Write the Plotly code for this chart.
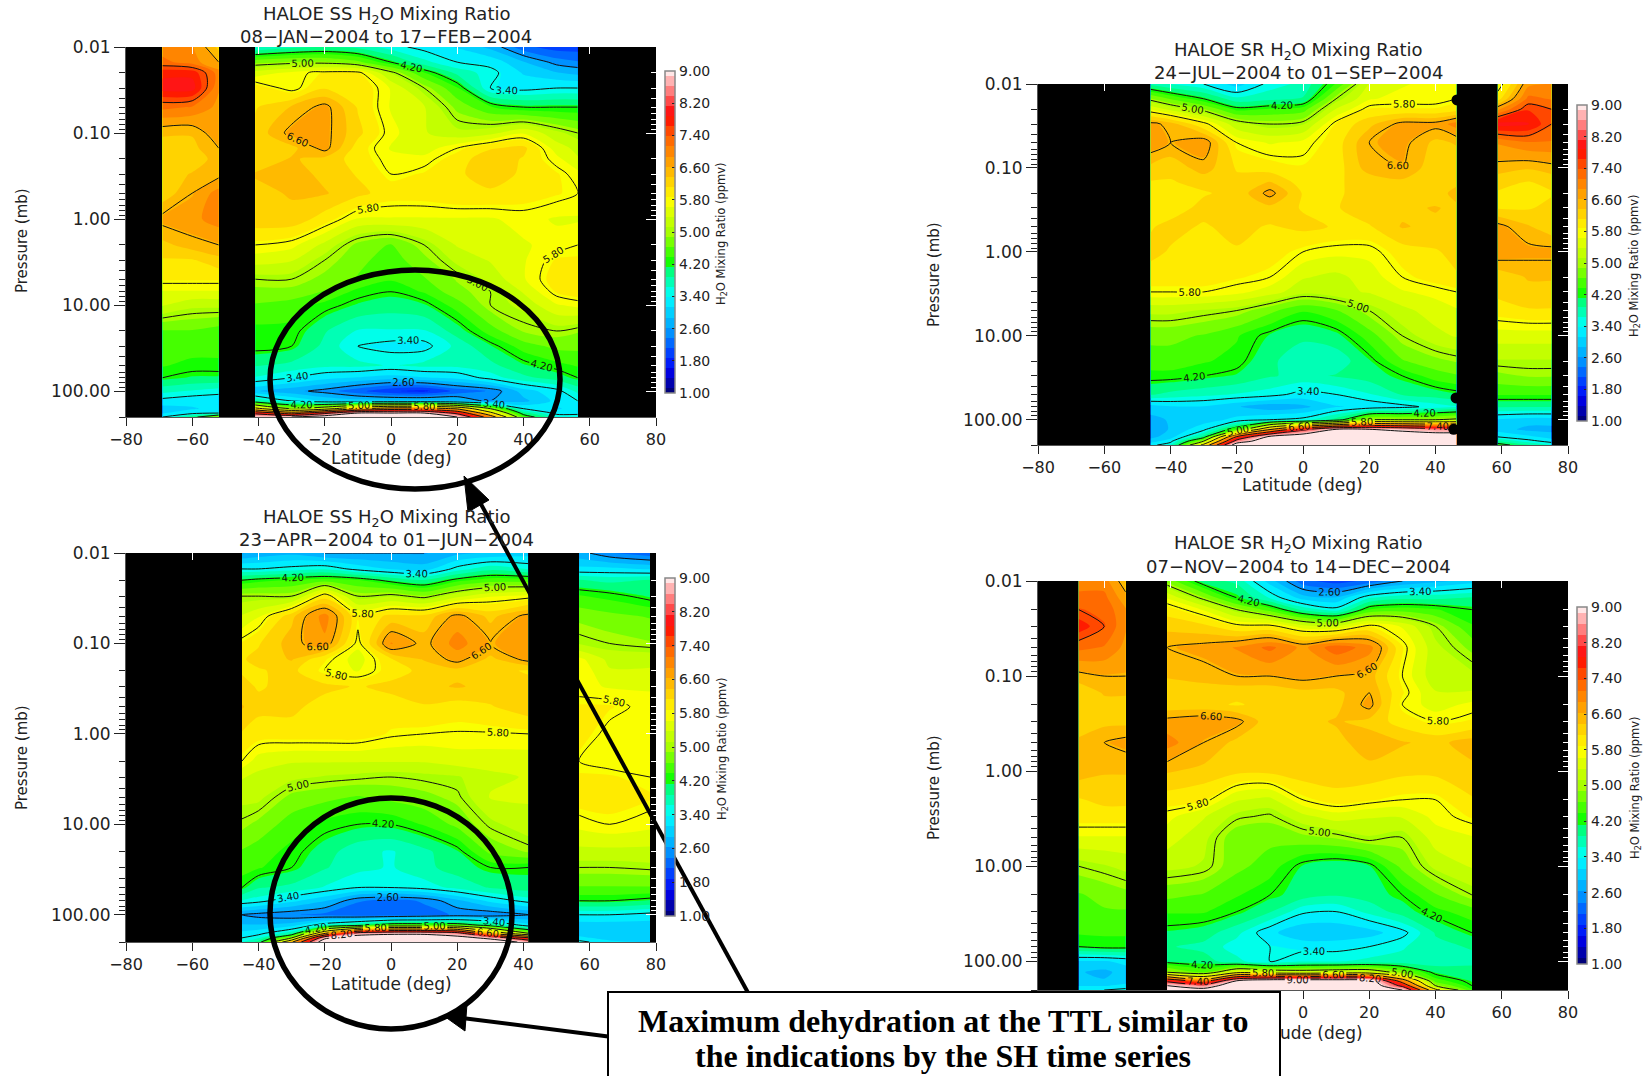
import math
import plotly.graph_objects as go

W, H = 1648, 1076

# ---------- shared data ----------
LEVELS_LONG = [0.01,0.015,0.02,0.03,0.05,0.1,0.15,0.2,0.3,0.5,1,2,3,5,7,10,20,30,50,70,100,130,160,180,200]
LEVELS = [0.01,0.015,0.02,0.03,0.05,0.1,0.15,0.2,0.3,0.5,1,2,3,5,10,20,30,50,70,100,130,160,180,200]
Y_TICKS = [0.01,0.1,1,10,100]
Y_TICK_TEXT = ["0.01","0.10","1.00","10.00","100.00"]
X_TICKS = [-80,-60,-40,-20,0,20,40,60,80]
CB_TICKS = [1.0,1.8,2.6,3.4,4.2,5.0,5.8,6.6,7.4,8.2,9.0]
CB_TEXT = ["1.00","1.80","2.60","3.40","4.20","5.00","5.80","6.60","7.40","8.20","9.00"]

# ---------- panel 1: 08-JAN-2004 to 17-FEB-2004 ----------
p1_lat_a = [-69,-60,-52]
p1_val_a = [
 [7.0,6.9,6.3],[7.2,7.0,6.6],[7.8,7.8,7.0],[8.0,8.0,6.9],[7.2,7.1,6.8],[6.4,6.4,6.8],[6.3,6.3,6.6],[6.2,6.2,6.5],
 [6.2,6.4,6.5],[6.2,6.6,7.0],[6.7,6.8,7.0],[6.3,6.5,6.6],[6.1,6.1,6.3],[5.9,5.9,5.9],[5.6,5.6,5.6],[5.4,5.2,5.2],
 [4.6,4.6,4.5],[4.5,4.5,4.5],[4.4,4.3,4.3],[4.2,4.1,4.1],[3.7,3.6,3.5],[3.3,3.2,3.2],[3.0,3.1,3.2],[3.1,3.3,3.4],[3.4,4.0,5.0]]
p1_lat_b = [-41,-30,-20,-10,0,10,20,30,40,50,56.4]
p1_val_b = [
 [3.6,3.8,3.9,3.8,3.5,3.3,3.1,2.8,2.2,2.0,2.0],
 [4.8,4.9,4.9,4.7,4.2,3.7,3.4,3.3,2.9,2.5,2.4],
 [5.5,5.7,5.9,5.9,5.1,4.4,3.8,3.5,3.1,2.9,2.8],
 [6.0,5.7,6.1,6.1,5.6,5.0,4.4,3.4,3.3,3.4,3.4],
 [6.1,6.4,6.7,6.1,5.6,5.4,4.8,4.4,4.2,4.2,4.2],
 [6.2,6.7,6.7,6.2,5.7,5.4,5.2,5.3,5.6,5.2,5.0],
 [6.2,6.3,6.7,6.0,5.6,5.5,5.8,6.1,6.2,5.5,5.3],
 [6.2,6.4,6.3,6.0,5.7,5.7,6.0,6.3,6.1,5.7,5.4],
 [6.4,6.5,6.3,6.1,5.8,5.9,6.1,6.2,6.1,5.9,5.7],
 [6.3,6.4,6.4,6.2,6.0,6.0,6.1,6.1,6.0,5.9,5.8],
 [6.3,6.3,6.0,5.6,5.6,5.6,5.6,5.6,5.7,5.6,5.6],
 [5.8,5.7,5.3,4.8,4.6,5.0,5.4,5.5,5.6,5.7,5.8],
 [5.5,5.4,5.0,4.7,4.5,4.8,5.2,5.4,5.6,5.9,5.9],
 [5.0,5.0,4.8,4.6,4.4,4.6,4.9,5.2,5.6,6.0,6.0],
 [4.8,4.8,4.6,4.3,4.2,4.4,4.8,5.0,5.4,5.9,6.0],
 [4.6,4.5,4.3,4.1,4.0,4.1,4.5,5.0,5.2,5.6,5.7],
 [4.3,4.3,3.9,3.6,3.6,3.6,4.0,4.5,4.9,5.0,4.9],
 [4.3,4.2,3.8,3.4,3.3,3.3,3.7,4.1,4.5,4.7,4.7],
 [3.9,3.8,3.7,3.7,3.6,3.7,3.7,3.8,4.1,4.3,4.4],
 [3.6,3.4,3.2,3.1,3.0,3.1,3.2,3.5,3.8,4.0,4.2],
 [2.9,2.7,2.5,2.2,1.9,1.8,2.2,2.4,3.0,3.3,3.7],
 [3.9,3.4,3.1,3.0,3.0,3.0,2.9,2.6,2.8,3.2,3.4],
 [6.0,5.0,5.5,6.5,7.0,7.0,6.5,5.0,3.4,3.1,3.2],
 [8.0,7.0,8.0,9.0,9.0,9.0,8.0,6.0,4.0,3.3,3.3],
 [9.0,9.0,9.5,9.5,9.5,9.5,9.0,7.0,4.5,3.6,3.6]]

# ---------- panel 2: 24-JUL-2004 to 01-SEP-2004 ----------
p2_lat_a = [-46,-40,-30,-20,-10,0,10,20,30,40,46.3]
p2_val_a = [
 [3.8,3.6,3.4,3.0,3.5,3.7,4.4,5.4,5.6,5.7,5.7],
 [4.9,4.6,4.2,3.7,3.8,3.9,5.0,5.6,5.7,5.7,5.8],
 [5.6,5.3,4.9,4.3,4.4,4.5,5.4,5.9,5.9,5.9,6.0],
 [6.7,6.5,5.9,5.2,5.0,5.1,5.9,6.3,6.7,6.7,7.0],
 [6.8,6.6,6.8,5.8,5.6,5.7,6.0,6.6,6.7,6.3,6.4],
 [6.3,6.2,6.5,6.1,6.0,5.9,6.0,6.5,6.6,6.2,6.2],
 [6.1,6.1,6.2,6.2,6.4,6.0,6.1,6.2,6.3,6.2,6.3],
 [5.9,6.0,6.1,6.2,6.7,6.1,6.1,6.2,6.3,6.2,6.5],
 [6.0,6.0,6.2,6.3,6.3,6.1,6.1,6.3,6.3,6.4,6.3],
 [6.1,6.2,6.1,6.2,6.1,6.2,6.1,6.1,6.4,6.3,6.2],
 [6.2,6.1,6.1,6.1,6.0,5.8,5.7,5.7,6.0,6.1,6.2],
 [6.0,6.0,6.0,5.9,5.8,5.4,5.3,5.5,5.8,6.0,6.1],
 [5.8,5.8,5.8,5.7,5.5,5.2,5.3,5.4,5.6,5.7,5.8],
 [5.2,5.2,5.1,5.0,4.7,4.4,4.6,5.0,5.3,5.5,5.6],
 [4.7,4.7,4.6,4.4,4.1,3.9,4.05,4.5,5.0,5.3,5.4],
 [4.5,4.5,4.4,4.3,3.9,3.8,3.7,4.1,4.6,4.8,4.9],
 [4.3,4.3,4.2,4.1,3.9,3.8,3.9,4.0,4.2,4.5,4.6],
 [3.9,3.8,3.7,3.6,3.5,3.3,3.4,3.6,3.9,4.0,4.1],
 [3.0,3.1,3.1,2.9,2.7,2.8,3.1,3.2,3.3,3.5,3.6],
 [2.8,2.9,3.0,3.2,3.4,3.5,4.0,5.0,5.0,5.0,5.1],
 [2.7,2.9,3.3,4.5,6.5,8.0,9.0,9.0,8.8,8.5,8.5],
 [2.8,3.0,4.0,7.5,9.2,9.6,9.6,9.6,9.6,9.6,9.6],
 [3.0,3.3,5.0,8.5,9.6,9.6,9.6,9.6,9.6,9.6,9.6],
 [3.3,3.6,6.0,9.5,9.6,9.6,9.6,9.6,9.6,9.6,9.6]]
p2_lat_b = [58.8,68,75]
p2_val_b = [
 [5.6,6.8,6.9],[6.0,7.2,7.1],[6.8,7.6,7.4],[8.0,7.9,7.4],[6.9,7.1,7.1],[6.5,6.4,6.5],[6.2,6.1,6.2],[6.1,6.1,6.1],
 [6.1,6.1,6.2],[6.7,6.4,6.2],[6.8,6.7,6.7],[6.2,6.4,6.4],[6.2,6.3,6.3],[6.0,6.1,6.1],[5.5,5.5,5.5],[5.1,5.1,5.1],
 [4.8,4.9,4.9],[4.4,4.4,4.4],[3.9,3.9,3.9],[3.1,3.0,3.0],[3.0,2.8,2.8],[3.4,3.2,3.0],[3.9,3.5,3.3],[4.4,3.9,3.6]]
p2_gap_lat = [46.5,46.2,45.5]
p2_gap_p = [0.0155,55,130]

# ---------- panel 3: 23-APR-2004 to 01-JUN-2004 ----------
p3_lat_a = [-45,-40,-30,-20,-10,0,10,20,30,41.4]
p3_val_a = [
 [2.6,2.7,2.8,2.6,2.6,2.6,2.6,2.8,2.9,3.0],
 [3.4,3.4,3.5,3.6,3.3,3.1,3.0,3.5,3.8,3.6],
 [4.2,4.3,4.4,4.5,4.4,4.1,3.9,4.3,4.5,4.5],
 [5.0,5.0,5.0,6.0,5.0,5.1,4.9,5.3,5.6,5.7],
 [5.4,5.6,6.3,7.0,5.9,6.2,6.2,6.7,6.3,6.7],
 [5.9,6.1,6.5,6.8,5.7,6.9,6.5,7.0,6.6,6.8],
 [6.1,6.2,6.4,5.9,5.5,6.1,6.4,6.7,6.3,6.7],
 [6.1,6.1,6.2,5.8,5.6,6.0,6.2,6.3,6.2,6.1],
 [6.2,6.1,6.2,6.2,6.1,6.2,6.3,6.4,6.3,6.2],
 [6.4,6.2,6.2,6.0,6.0,6.0,6.1,6.0,6.1,6.3],
 [6.1,6.0,6.0,6.0,6.0,5.85,5.8,5.78,5.78,5.8],
 [5.8,5.5,5.4,5.4,5.4,5.4,5.4,5.5,5.5,5.5],
 [5.4,5.3,5.2,5.1,5.05,5.0,5.05,5.1,5.3,5.4],
 [5.2,5.2,4.8,4.7,4.6,4.7,4.8,4.95,5.4,5.4],
 [4.95,4.8,4.5,4.3,4.2,4.2,4.4,4.7,5.05,5.3],
 [4.6,4.5,4.3,4.0,3.7,3.6,3.8,4.1,4.7,4.9],
 [4.5,4.4,4.2,3.9,3.7,3.6,3.8,4.0,4.2,4.2],
 [4.2,3.9,3.8,3.6,3.4,3.4,3.5,3.7,3.9,4.0],
 [3.6,3.5,3.2,2.9,2.4,2.3,2.4,2.8,3.2,3.5],
 [2.6,2.5,2.4,2.3,2.2,2.2,2.3,2.4,2.4,2.6],
 [2.9,2.9,3.0,3.6,4.0,4.5,4.5,4.5,4.0,3.2],
 [3.2,3.3,3.8,6.5,8.5,8.8,8.8,8.5,6.5,5.0],
 [3.4,3.6,5.0,8.8,9.6,9.6,9.6,9.3,8.8,7.5],
 [3.6,4.0,6.5,9.6,9.6,9.6,9.6,9.6,9.5,8.8]]
p3_lat_b = [56.8,66,78.2]
p3_val_b = [
 [2.7,2.4,2.2],[3.2,3.2,3.1],[3.9,3.8,3.9],[4.4,4.3,4.1],[4.8,4.7,4.6],[5.1,5.0,4.9],[5.7,5.3,5.3],[5.8,5.4,5.4],
 [5.7,5.6,5.6],[5.9,5.9,5.7],[6.0,5.7,5.7],[5.8,5.7,5.7],[5.9,5.9,5.8],[6.0,6.0,5.9],[5.7,5.8,5.7],[5.3,5.3,5.3],
 [5.0,5.0,5.05],[4.6,4.6,4.6],[4.2,4.2,4.1],[3.4,3.4,3.3],[3.0,3.0,3.0],[3.0,2.9,2.9],[3.2,3.0,3.0],[3.5,3.2,3.1]]

# ---------- panel 4: 07-NOV-2004 to 14-DEC-2004 ----------
p4_lat_a = [-67.7,-60,-53.5]
p4_val_a = [
 [7.0,7.0,6.4],[7.2,7.2,6.7],[7.4,7.3,6.9],[7.8,7.4,6.9],[7.2,7.1,6.8],[6.5,6.6,6.6],[6.2,6.4,6.4],[6.2,6.3,6.3],
 [6.3,6.3,6.3],[6.4,6.6,6.7],[6.5,6.4,6.4],[6.1,6.2,6.2],[6.0,6.0,6.0],[5.6,5.6,5.6],[5.0,5.1,5.2],[4.6,4.7,4.8],
 [4.6,4.6,4.6],[4.4,4.4,4.4],[4.2,4.3,4.3],[3.1,3.1,3.2],[2.9,2.8,3.0],[2.9,2.9,3.0],[3.1,3.1,3.2],[3.4,3.4,3.5]]
p4_lat_b = [-41,-30,-20,-10,0,10,20,30,40,51]
p4_val_b = [
 [4.8,4.0,3.8,3.0,2.2,2.0,2.2,2.6,2.8,3.0],
 [5.6,4.9,4.2,3.6,3.0,2.9,3.6,3.8,3.8,3.9],
 [6.0,5.6,5.0,4.5,3.8,3.5,4.4,4.5,4.4,4.2],
 [6.3,6.2,5.9,5.9,5.5,5.4,5.9,5.6,5.0,4.4],
 [6.6,6.7,6.9,7.2,6.8,7.3,7.0,5.9,5.2,4.8],
 [6.4,6.5,6.6,6.6,6.7,6.6,6.5,5.8,5.2,5.2],
 [6.2,6.2,6.2,6.2,6.3,6.3,6.6,5.9,5.4,5.4],
 [6.2,6.2,6.1,6.2,6.3,6.3,6.7,5.8,5.5,5.7],
 [6.7,6.8,6.7,6.2,6.3,6.4,6.3,6.0,5.8,5.9],
 [7.0,6.6,6.3,6.3,6.3,6.3,6.5,6.4,6.3,6.5],
 [6.4,6.3,6.2,6.2,6.3,6.3,6.3,6.2,6.2,6.3],
 [6.0,5.9,5.4,5.3,5.8,6.0,5.9,5.8,5.8,6.1],
 [5.7,5.4,5.05,4.95,5.3,5.5,5.4,5.4,5.7,5.9],
 [5.5,5.2,4.7,4.7,4.8,4.9,5.1,5.0,5.5,5.6],
 [5.2,5.1,4.7,4.5,4.1,3.95,4.1,4.7,5.2,5.4],
 [4.7,4.6,4.4,4.2,4.0,3.9,4.0,4.2,4.6,5.0],
 [4.4,4.4,4.2,3.9,3.45,3.4,3.7,4.0,4.3,4.5],
 [4.1,4.0,3.7,3.2,2.9,2.9,3.0,3.3,3.9,4.2],
 [3.9,3.8,3.5,3.4,3.3,3.3,3.4,3.6,3.8,3.9],
 [4.1,4.0,3.7,3.4,3.6,3.6,3.7,3.7,3.7,3.8],
 [5.0,4.6,5.6,5.4,5.3,5.4,5.4,4.8,4.1,4.0],
 [8.0,7.0,9.0,9.5,9.5,9.5,9.4,7.0,4.5,4.1],
 [9.0,8.5,9.6,9.6,9.6,9.6,9.6,8.0,5.0,4.2],
 [9.3,9.3,9.6,9.6,9.6,9.6,9.6,9.0,6.0,4.4]]

# ---------- colours ----------
COLOR_ANCHORS = [(1.0,"#00007a"),(1.5,"#0000e0"),(1.8,"#0020ff"),(2.6,"#00a0ff"),(3.4,"#00ffff"),(4.0,"#00ff80"),
                 (4.15,"#00ff00"),(5.0,"#a8ff00"),(5.8,"#ffff00"),(6.6,"#ffb000"),(7.4,"#ff5a00"),(7.9,"#ff0000"),
                 (8.2,"#ff4040"),(9.0,"#ffe6e6")]
COLORSCALE = [[(v-1)/8, c] for v, c in COLOR_ANCHORS]
INK = "#222222"
X_FONT = dict(family="DejaVu Sans", size=16, color=INK)
Y_FONT = dict(family="DejaVu Sans", size=17, color=INK)

PANELS = [
 dict(box=(126,656,47,417),  cb=(665,71,393),   title="HALOE SS H<sub>2</sub>O Mixing Ratio", dates="08\u2212JAN\u22122004 to 17\u2212FEB\u22122004",
      ty=(15,36),  cx=386,  levels=LEVELS_LONG, segs=[(p1_lat_a,p1_val_a),(p1_lat_b,p1_val_b)], cb_seg=1,
      xt=X_TICKS, lat_pos=(391,458), pre_pos=(22,241), cbt_pos=(722,234), gaps=None),
 dict(box=(1038,1568,84,445),cb=(1577,105,421), title="HALOE SR H<sub>2</sub>O Mixing Ratio", dates="24\u2212JUL\u22122004 to 01\u2212SEP\u22122004",
      ty=(51,72),  cx=1298, levels=LEVELS, segs=[(p2_lat_a,p2_val_a),(p2_lat_b,p2_val_b)], cb_seg=0,
      xt=X_TICKS, lat_pos=(1302,485), pre_pos=(934,275), cbt_pos=(1635,266), gaps=(p2_gap_lat,p2_gap_p)),
 dict(box=(126,656,553,942), cb=(665,578,916),  title="HALOE SS H<sub>2</sub>O Mixing Ratio", dates="23\u2212APR\u22122004 to 01\u2212JUN\u22122004",
      ty=(518,539),cx=386,  levels=LEVELS, segs=[(p3_lat_a,p3_val_a),(p3_lat_b,p3_val_b)], cb_seg=0,
      xt=X_TICKS, lat_pos=(391,984), pre_pos=(22,758), cbt_pos=(722,749), gaps=None),
 dict(box=(1038,1568,581,990),cb=(1577,607,964),title="HALOE SR H<sub>2</sub>O Mixing Ratio", dates="07\u2212NOV\u22122004 to 14\u2212DEC\u22122004",
      ty=(544,566),cx=1298, levels=LEVELS, segs=[(p4_lat_a,p4_val_a),(p4_lat_b,p4_val_b)], cb_seg=1,
      xt=X_TICKS[4:], lat_pos=(1302,1033), pre_pos=(934,788), cbt_pos=(1635,788), gaps=None),
]

def px(x): return x/W
def py(y): return 1-y/H

MINOR_P = [m*10**e for e in (-2,-1,0,1) for m in range(2,10)] + [200]

fig = go.Figure()
layout = dict(width=W, height=H, autosize=False, margin=dict(l=0,r=0,t=0,b=0,autoexpand=False), paper_bgcolor="white",
              plot_bgcolor="black", showlegend=False)
annotations, shapes = [], []

def label(text, pos, size, angle=0):
    annotations.append(dict(x=px(pos[0]), y=py(pos[1]), xref="paper", yref="paper", text=text, showarrow=False, textangle=angle,
                            xanchor="center", yanchor="middle", font=dict(family="DejaVu Sans", size=size, color=INK)))

for i, p in enumerate(PANELS):
    n = i+1
    m = i+5
    x0,x1,y0,y1 = p["box"]
    xd = [px(x0),px(x1)]
    yd = [py(y1),py(y0)]
    yr = [math.log10(200), -2]
    layout[f"xaxis{n}"] = dict(domain=xd, range=[-80,80], anchor=f"y{n}", tickvals=p["xt"], ticks="outside", ticklen=8,
        tickcolor=INK, tickwidth=1, showgrid=False, zeroline=False, showline=True, linecolor="#555555", linewidth=1, tickfont=X_FONT)
    layout[f"yaxis{n}"] = dict(domain=yd, type="log", range=yr, anchor=f"x{n}", tickvals=Y_TICKS, ticktext=Y_TICK_TEXT,
        ticks="outside", ticklen=11, tickcolor=INK, tickwidth=1, showgrid=False, zeroline=False, showline=True,
        linecolor="#555555", linewidth=1, tickfont=Y_FONT,
        minor=dict(tickvals=MINOR_P, ticks="outside", ticklen=6, tickcolor=INK, tickwidth=1, showgrid=False))
    # white inward ticks on the top and right edges
    layout[f"xaxis{m}"] = dict(domain=xd, range=[-80,80], anchor=f"y{m}", overlaying=f"x{n}", side="top", tickvals=X_TICKS,
        ticks="inside", ticklen=7, tickcolor="white", tickwidth=1, showticklabels=False, showgrid=False, zeroline=False)
    layout[f"yaxis{m}"] = dict(domain=yd, type="log", range=yr, anchor=f"x{m}", overlaying=f"y{n}", side="right",
        tickvals=Y_TICKS, ticks="inside", ticklen=10, tickcolor="white", tickwidth=1, showticklabels=False, showgrid=False, zeroline=False,
        minor=dict(tickvals=MINOR_P, ticks="inside", ticklen=5, tickcolor="white", tickwidth=1, showgrid=False))
    for j,(lat,val) in enumerate(p["segs"]):
        show = j == p["cb_seg"]
        cb = p["cb"]
        tr = dict(x=lat, y=p["levels"], z=val, xaxis=f"x{n}", yaxis=f"y{n}", colorscale=COLORSCALE, zmin=1, zmax=9, zauto=False,
                  autocontour=False, contours=dict(start=0.875, end=9.125, size=0.25, coloring="fill", showlines=False),
                  line=dict(width=0, smoothing=0.8), showscale=show, hoverinfo="skip")
        if show:
            tr["colorbar"] = dict(x=px(cb[0]), xanchor="left", y=py(cb[2]), yanchor="bottom", len=cb[2]-cb[1], lenmode="pixels",
                thickness=10, thicknessmode="pixels", xpad=0, ypad=0, outlinecolor="#888888", outlinewidth=1.5,
                tickmode="array", tickvals=CB_TICKS, ticktext=CB_TEXT, ticks="inside", ticklen=3, tickcolor=INK,
                tickfont=dict(family="DejaVu Sans", size=14, color=INK))
        fig.add_trace(go.Contour(**tr))
        fig.add_trace(go.Contour(x=lat, y=p["levels"], z=val, xaxis=f"x{n}", yaxis=f"y{n}", showscale=False, autocontour=False,
                  contours=dict(start=1, end=9, size=0.8, coloring="none", showlabels=True, labelformat=".2f",
                                labelfont=dict(family="DejaVu Sans", size=10, color="#111111")),
                  line=dict(color="#111111", width=1, smoothing=0.8), hoverinfo="skip"))
    if p["gaps"]:
        fig.add_trace(go.Scatter(x=p["gaps"][0], y=p["gaps"][1], xaxis=f"x{n}", yaxis=f"y{n}", mode="markers",
                                 marker=dict(color="black", size=11), hoverinfo="skip"))
    fig.add_trace(go.Scatter(x=[None], y=[None], xaxis=f"x{m}", yaxis=f"y{m}", hoverinfo="skip", mode="markers"))
    for text, y in zip((p["title"], p["dates"]), p["ty"]):
        label(text, (p["cx"], y), 18)
    label("Latitude (deg)", p["lat_pos"], 17)
    label("Pressure (mb)", p["pre_pos"], 15, -90)
    label("H<sub>2</sub>O Mixing Ratio (ppmv)", p["cbt_pos"], 11.5, -90)

# ellipses and arrows (call-outs)
for ex0, ex1, ey0, ey1 in [(270,560,270,489),(270,512,798,1029)]:
    shapes.append(dict(type="circle", xref="paper", yref="paper", x0=px(ex0), x1=px(ex1), y0=py(ey0), y1=py(ey1),
                       line=dict(color="black", width=5.5), layer="above"))
for lx0, ly0, lx1, ly1 in [(752,1000,476,495),(620,1038,462,1018)]:
    shapes.append(dict(type="line", xref="paper", yref="paper", x0=px(lx0), y0=py(ly0), x1=px(lx1), y1=py(ly1),
                       line=dict(color="black", width=4), layer="above"))
for tri in [[(464,476),(489,500),(468,512)],[(444,1016),(467,1004),(465,1031)]]:
    path = "M " + " L ".join(f"{px(a):.5f} {py(b):.5f}" for a,b in tri) + " Z"
    shapes.append(dict(type="path", xref="paper", yref="paper", path=path, fillcolor="black", line=dict(color="black", width=1), layer="above"))

# call-out box
annotations.append(dict(x=px(607), y=py(991), xref="paper", yref="paper", xanchor="left", yanchor="top", showarrow=False,
                        text=" ", width=670, height=100, bgcolor="white", bordercolor="black", borderwidth=2, borderpad=0))
for text, y in [("Maximum dehydration at the TTL similar to",1021),("the indications by the SH time series",1056)]:
    annotations.append(dict(x=px(943), y=py(y), xref="paper", yref="paper", xanchor="center", yanchor="middle", showarrow=False, text=f"<b>{text}</b>",
                            font=dict(family="Liberation Serif", size=32, color="black")))

layout["annotations"] = annotations
layout["shapes"] = shapes
fig.update_layout(**layout)
fig.write_html("out.html", config=dict(displayModeBar=False), post_script="document.body.style.margin='0';document.body.style.overflow='hidden';")
